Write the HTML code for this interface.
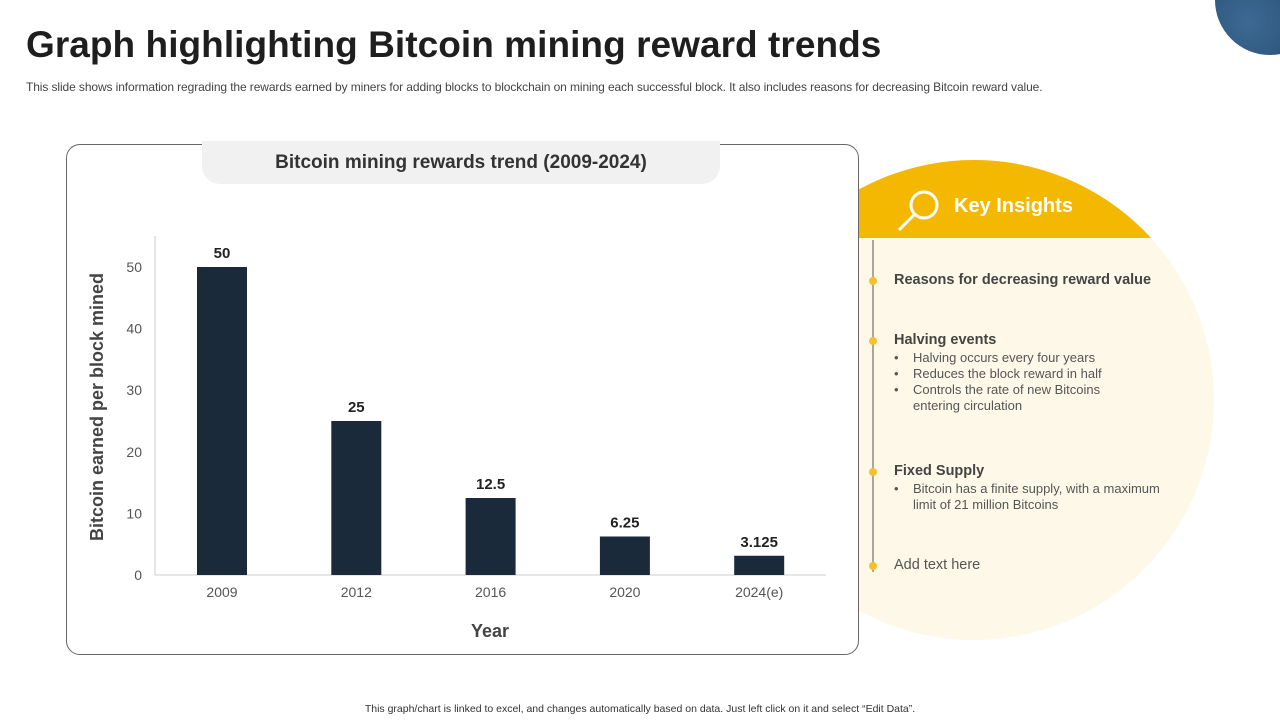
<!DOCTYPE html>
<html><head><meta charset="utf-8"><style>
body{margin:0;width:1280px;height:720px;overflow:hidden;background:#fff;font-family:"Liberation Sans",sans-serif;position:relative}
.abs{position:absolute}
</style></head><body>
<div class="abs" style="left:1215px;top:-55px;width:110px;height:110px;border-radius:50%;background:radial-gradient(circle at 30% 70%,#3c6a93,#1d3f63)"></div>
<div class="abs" style="left:26px;top:24px;font-size:37px;font-weight:bold;color:#1e1e1e;letter-spacing:0.05px">Graph highlighting Bitcoin mining reward trends</div>
<div class="abs" style="left:26px;top:80px;font-size:12px;color:#444;letter-spacing:-0.1px">This slide shows information regrading the rewards earned by miners for adding blocks to blockchain on mining each successful block. It also includes reasons for decreasing Bitcoin reward value.</div>

<svg class="abs" style="left:0;top:0" width="1280" height="720">
<defs><clipPath id="cc"><rect x="858" y="0" width="422" height="720"/></clipPath><clipPath id="top"><rect x="858" y="0" width="422" height="238"/></clipPath></defs>
<circle cx="974" cy="400" r="240" fill="#fef8e8" clip-path="url(#cc)"/>
<circle cx="974" cy="400" r="240" fill="#f5b800" clip-path="url(#top)"/>
<line x1="873" y1="240" x2="873" y2="572" stroke="#555" stroke-width="1"/>
<g fill="#f5c12a"><circle cx="873" cy="281" r="4"/><circle cx="873" cy="341" r="4"/><circle cx="873" cy="472" r="4"/><circle cx="873" cy="566" r="4"/></g>
<g stroke="#fff" stroke-width="3" fill="none"><circle cx="924" cy="205" r="13"/><line x1="914" y1="215" x2="899" y2="230"/></g>
</svg>
<div class="abs" style="left:954px;top:195px;font-size:20px;font-weight:bold;color:#fff">Key Insights</div>
<div class="abs" style="left:894px;top:272px;font-size:13px;color:#555;line-height:16px;width:300px">
<div style="font-weight:bold;font-size:14.5px;color:#444">Reasons for decreasing reward value</div>
<div style="font-weight:bold;font-size:14.5px;color:#444;margin-top:44px">Halving events</div>
<div style="margin-top:2px">•&nbsp;&nbsp;&nbsp;&nbsp;Halving occurs every four years</div>
<div>•&nbsp;&nbsp;&nbsp;&nbsp;Reduces the block reward in half</div>
<div>•&nbsp;&nbsp;&nbsp;&nbsp;Controls the rate of new Bitcoins<br><span style="padding-left:19px">entering circulation</span></div>
<div style="font-weight:bold;font-size:14.5px;color:#444;margin-top:49px">Fixed Supply</div>
<div style="margin-top:2px">•&nbsp;&nbsp;&nbsp;&nbsp;Bitcoin has a finite supply, with a maximum<br><span style="padding-left:19px">limit of 21 million Bitcoins</span></div>
<div style="font-size:14.5px;margin-top:44px">Add text here</div>
</div>

<div class="abs" style="left:66px;top:144px;width:791px;height:509px;border:1px solid #666;border-radius:14px;background:#fff"></div>
<div class="abs" style="left:202px;top:141px;width:518px;height:43px;background:#f1f1f1;border-radius:0 0 18px 18px;text-align:center;line-height:44px;font-size:19px;font-weight:bold;color:#333">Bitcoin mining rewards trend (2009-2024)</div>

<svg class="abs" style="left:0;top:0" width="1280" height="720" id="chart"></svg>
<div class="abs" style="left:0;width:1280px;top:703px;text-align:center;font-size:10.5px;color:#333">This graph/chart is linked to excel, and changes automatically based on data. Just left click on it and select “Edit Data”.</div>
<script>
const categories=["2009","2012","2016","2020","2024(e)"];
const values=[50,25,12.5,6.25,3.125];
const valueLabels=["50","25","12.5","6.25","3.125"];
const yTicks=[0,10,20,30,40,50];
const svg=document.getElementById('chart');
const NS="http://www.w3.org/2000/svg";
const y0=575,pxPer=6.16,x0=155,step=134.3,firstX=222,bw=50;
const yS=v=>y0-v*pxPer, xS=i=>firstX+i*step;
function mk(t,a,txt){const e=document.createElementNS(NS,t);for(const k in a)e.setAttribute(k,a[k]);if(txt!==undefined)e.textContent=txt;svg.appendChild(e);return e;}
let e=mk('line',{x1:x0,y1:236,x2:x0,y2:y0,stroke:'#ccc'});


e=mk('line',{x1:x0,y1:y0,x2:826,y2:y0,stroke:'#ccc'});


yTicks.forEach(t=>{const l=mk('text',{x:142,y:yS(t)+5,'text-anchor':'end','font-size':14,fill:'#555','font-family':'Liberation Sans'},String(t));

});
values.forEach((v,i)=>{const r=mk('rect',{x:xS(i)-bw/2,y:yS(v),width:bw,height:v*pxPer,fill:'#1b2a3a'});


const l=mk('text',{x:xS(i),y:yS(v)-9,'text-anchor':'middle','font-size':15,'font-weight':'bold',fill:'#222','font-family':'Liberation Sans'},valueLabels[i]);


const c=mk('text',{x:xS(i),y:597,'text-anchor':'middle','font-size':14,fill:'#555','font-family':'Liberation Sans'},categories[i]);

});
e=mk('text',{x:490,y:637,'text-anchor':'middle','font-size':18,'font-weight':'bold',fill:'#444','font-family':'Liberation Sans'},'Year');


e=mk('text',{x:0,y:0,transform:'translate(103,407) rotate(-90)','text-anchor':'middle','font-size':18,'font-weight':'bold',fill:'#444','font-family':'Liberation Sans'},'Bitcoin earned per block mined');


</script>
</body></html>
